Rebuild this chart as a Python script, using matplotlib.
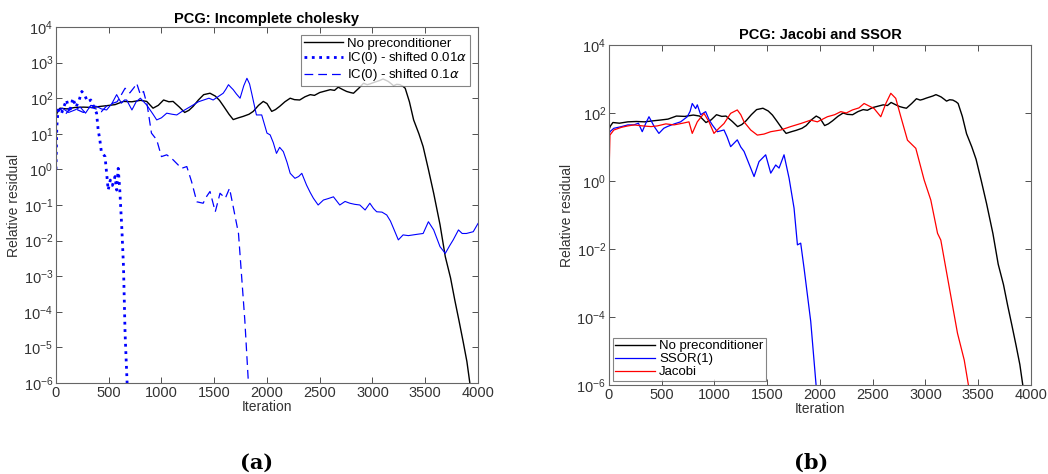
import numpy as np
import matplotlib
matplotlib.use('Agg')
import matplotlib.pyplot as plt
from matplotlib.ticker import NullLocator, LogFormatterMathtext

# residual curves as (iteration, log10 residual)
black_it = [0, 15, 38, 100, 180, 260, 340, 420, 480, 560, 640, 720, 800, 860, 920, 970, 1020,
            1070, 1110, 1170, 1220, 1260, 1300, 1350, 1400, 1460, 1510, 1550, 1590, 1640, 1680,
            1730, 1775, 1830, 1870, 1920, 1965, 2000, 2045, 2080, 2120, 2170, 2220, 2260, 2310,
            2360, 2410, 2450, 2500, 2550, 2600, 2640, 2675, 2720, 2755, 2790, 2820, 2870, 2915,
            2950, 2975, 3010, 3040, 3070, 3100, 3130, 3150, 3180, 3200, 3230, 3260, 3290, 3310,
            3350, 3390, 3440, 3480, 3530, 3580, 3640, 3690, 3740, 3780, 3820, 3860, 3895, 3925]
black_log = [1.5, 1.62, 1.72, 1.70, 1.74, 1.75, 1.74, 1.77, 1.79, 1.82, 1.91, 1.90, 1.94, 1.91,
             1.72, 1.80, 1.95, 1.90, 1.91, 1.75, 1.60, 1.66, 1.77, 1.95, 2.10, 2.14, 2.06, 1.94,
             1.77, 1.55, 1.40, 1.45, 1.49, 1.55, 1.63, 1.80, 1.91, 1.85, 1.63, 1.68, 1.77, 1.90,
             2.00, 1.96, 1.95, 2.04, 2.10, 2.08, 2.16, 2.20, 2.24, 2.22, 2.31, 2.24, 2.19, 2.16,
             2.14, 2.28, 2.42, 2.38, 2.40, 2.44, 2.47, 2.50, 2.54, 2.50, 2.47, 2.40, 2.35, 2.39,
             2.38, 2.33, 2.28, 1.90, 1.39, 1.00, 0.64, 0.00, -0.67, -1.55, -2.45, -3.05, -3.67,
             -4.25, -4.85, -5.40, -6.05]

ic_it = [0, 60, 120, 180, 230, 280, 330, 385, 430, 480, 530, 575, 620, 650, 670, 720, 760, 800,
         860, 920, 955, 1000, 1050, 1100, 1145, 1190, 1220, 1260, 1300, 1350, 1400, 1450, 1490,
         1540, 1585, 1610, 1635, 1660, 1680, 1710, 1745, 1780, 1810, 1835, 1855, 1880, 1900,
         1950, 2000, 2030, 2060, 2090, 2120, 2155, 2190, 2220, 2265, 2300, 2330, 2375, 2410,
         2440, 2485, 2535, 2580, 2630, 2690, 2740, 2785, 2830, 2880, 2930, 2975, 3010, 3040,
         3090, 3135, 3170, 3200, 3245, 3290, 3340, 3385, 3430, 3480, 3530, 3580, 3640, 3690,
         3730, 3765, 3815, 3850, 3890, 3955, 4000]
ic_log = [1.6, 1.72, 1.60, 1.67, 1.75, 1.58, 1.80, 1.77, 1.70, 1.67, 1.85, 2.10, 1.86, 1.95,
          1.95, 1.67, 1.90, 2.00, 1.81, 1.55, 1.39, 1.45, 1.58, 1.55, 1.53, 1.62, 1.67, 1.74,
          1.81, 1.90, 1.95, 2.00, 1.95, 2.05, 2.14, 2.25, 2.38, 2.30, 2.24, 2.12, 2.00, 2.35,
          2.56, 2.40, 2.14, 1.80, 1.53, 1.53, 1.02, 0.97, 0.75, 0.45, 0.62, 0.50, 0.20, -0.11,
          -0.25, -0.20, -0.11, -0.44, -0.65, -0.81, -1.00, -0.86, -0.82, -0.77, -1.00, -0.90,
          -0.95, -0.98, -1.00, -1.14, -0.95, -1.10, -1.19, -1.20, -1.28, -1.45, -1.66, -1.98,
          -1.84, -1.86, -1.84, -1.82, -1.80, -1.47, -1.70, -2.17, -2.36, -2.15, -1.98, -1.70,
          -1.80, -1.80, -1.75, -1.52]

dot_it = [0, 8, 20, 50, 80, 100, 130, 160, 190, 220, 245, 270, 300, 330, 360, 385, 400, 415,
          430, 450, 465, 480, 495, 515, 535, 560, 575, 590, 605, 625, 640, 655, 675]
dot_log = [0.0, 1.2, 1.67, 1.55, 1.80, 1.95, 1.60, 2.00, 1.75, 1.95, 2.19, 2.10, 1.90, 1.95,
           1.75, 1.58, 1.11, 0.85, 0.50, 0.42, 0.36, -0.10, -0.58, -0.30, -0.45, -0.20,
           -0.58, 0.03, -0.58, -1.70, -2.73, -4.60, -6.05]

dash_it = [0, 40, 90, 140, 200, 260, 320, 380, 430, 480, 530, 580, 620, 655, 700, 740, 765,
           800, 830, 865, 905, 955, 1000, 1050, 1110, 1150, 1190, 1240, 1285, 1335, 1395, 1430,
           1460, 1510, 1555, 1605, 1645, 1680, 1730, 1760, 1790, 1825]
dash_log = [1.6, 1.70, 1.55, 1.72, 1.68, 1.60, 1.75, 1.70, 1.62, 1.78, 1.85, 1.90, 2.10,
            2.28, 2.15, 2.30, 2.42, 2.10, 2.19, 1.80, 1.02, 0.83, 0.36, 0.41, 0.27, 0.15,
            0.03, 0.08, -0.34, -0.91, -0.95, -0.75, -0.62, -1.19, -0.67, -0.81, -0.53, -1.05,
            -1.80, -3.02, -4.24, -6.05]

ssor_it = [0, 10, 47, 120, 180, 237, 280, 316, 350, 380, 430, 474, 520, 553, 620, 680, 743,
           770, 790, 822, 838, 870, 917, 950, 980, 1028, 1091, 1120, 1154, 1217, 1250, 1281,
           1344, 1376, 1423, 1486, 1534, 1581, 1613, 1660, 1708, 1755, 1787, 1818, 1850, 1913, 1965]
ssor_log = [1.3, 1.45, 1.55, 1.60, 1.65, 1.65, 1.70, 1.45, 1.70, 1.89, 1.60, 1.40, 1.55,
            1.60, 1.68, 1.74, 1.89, 2.05, 2.28, 2.13, 2.24, 1.95, 2.04, 1.80, 1.65, 1.45,
            1.50, 1.30, 1.01, 1.21, 1.00, 0.87, 0.38, 0.13, 0.57, 0.77, 0.23, 0.47, 0.38,
            0.77, 0.08, -0.80, -1.88, -1.83, -2.57, -4.13, -6.05]

jac_it = [0, 10, 47, 120, 180, 237, 320, 400, 458, 540, 617, 700, 759, 790, 838, 901, 949,
          996, 1043, 1091, 1154, 1217, 1250, 1281, 1344, 1407, 1470, 1534, 1629, 1723, 1818,
          1913, 1976, 2071, 2140, 2198, 2250, 2308, 2370, 2419, 2470, 2514, 2577, 2625, 2672,
          2719, 2767, 2830, 2909, 2988, 3051, 3115, 3146, 3225, 3304, 3368, 3410]
jac_log = [0.0, 1.35, 1.50, 1.58, 1.62, 1.65, 1.62, 1.60, 1.62, 1.68, 1.65, 1.70, 1.74,
           1.40, 1.74, 1.99, 1.74, 1.40, 1.55, 1.69, 1.99, 2.09, 1.95, 1.74, 1.50, 1.35,
           1.38, 1.45, 1.50, 1.60, 1.69, 1.79, 1.74, 1.89, 1.95, 2.04, 2.00, 2.09, 2.15,
           2.28, 2.20, 2.13, 1.89, 2.28, 2.58, 2.43, 1.89, 1.20, 0.96, 0.03, -0.56, -1.54,
           -1.74, -3.11, -4.48, -5.27, -6.05]

axis_col = '#333333'
plt.rcParams['font.family'] = ['Liberation Sans', 'DejaVu Sans']
plt.rcParams['mathtext.fontset'] = 'dejavusans'

fig = plt.figure(figsize=(10.48, 4.74), dpi=100)
ax1 = fig.add_axes([0.0534, 0.192, 0.4027, 0.751])
ax2 = fig.add_axes([0.581, 0.188, 0.4027, 0.717])


def pw(e):
    return 10.0 ** np.array(e)


# (a) incomplete cholesky
ax1.plot(black_it, pw(black_log), color='black', lw=1.0, label='No preconditioner')
ax1.plot(dot_it, pw(dot_log), color='blue', lw=2.0, ls=':', label=r'IC(0) - shifted 0.01$\alpha$')
ax1.plot(dash_it, pw(dash_log), color='blue', lw=0.9, ls=(0, (7, 4)), label=r'IC(0) - shifted 0.1$\alpha$')
ax1.plot(ic_it, pw(ic_log), color='blue', lw=0.8)
ax1.set_title('PCG: Incomplete cholesky', fontsize=10.5, fontweight='bold', pad=3)
leg1 = ax1.legend(loc='upper right', fontsize=9.5, frameon=True, fancybox=False,
                  borderpad=0.2, labelspacing=0.05, handlelength=3.0, handletextpad=0.3,
                  borderaxespad=0.6)

# (b) jacobi and ssor
ax2.plot(black_it, pw(black_log), color='black', lw=1.0, label='No preconditioner')
ax2.plot(ssor_it, pw(ssor_log), color='blue', lw=0.9, label='SSOR(1)')
ax2.plot(jac_it, pw(jac_log), color='red', lw=0.9, label='Jacobi')
ax2.set_title('PCG: Jacobi and SSOR', fontsize=10.5, fontweight='bold', pad=4)
leg2 = ax2.legend(loc='lower left', fontsize=9.5, frameon=True, fancybox=False,
                  borderpad=0.2, labelspacing=0.05, handlelength=3.0, handletextpad=0.3,
                  borderaxespad=0.3)

for ax, leg in ((ax1, leg1), (ax2, leg2)):
    ax.set_yscale('log')
    ax.set_xlim(0, 4000)
    ax.set_ylim(1e-6, 1e4)
    ax.set_xticks(range(0, 4001, 500))
    ax.set_xlabel('Iteration', fontsize=10, color=axis_col, labelpad=0)
    ax.set_ylabel('Relative residual', fontsize=10, color=axis_col, labelpad=2)
    ax.tick_params(direction='in', top=True, right=True, length=4, width=0.6,
                   labelsize=10.5, colors=axis_col, pad=2)
    for s in ax.spines.values():
        s.set_color('#666666')
        s.set_linewidth(0.8)
    leg.get_frame().set_edgecolor('#666666')
    leg.get_frame().set_linewidth(0.8)

ax1.set_yticks([10.0 ** k for k in range(-6, 5)])
ax2.set_yticks([10.0 ** k for k in range(-6, 5, 2)])
for ax in (ax1, ax2):
    ax.yaxis.set_minor_locator(NullLocator())
    ax.yaxis.set_major_formatter(LogFormatterMathtext())

fig.text(0.245, 0.012, '(a)', fontsize=15, fontweight='bold', family='DejaVu Serif', ha='center')
fig.text(0.774, 0.012, '(b)', fontsize=15, fontweight='bold', family='DejaVu Serif', ha='center')

fig.savefig('out.png', dpi=100)
